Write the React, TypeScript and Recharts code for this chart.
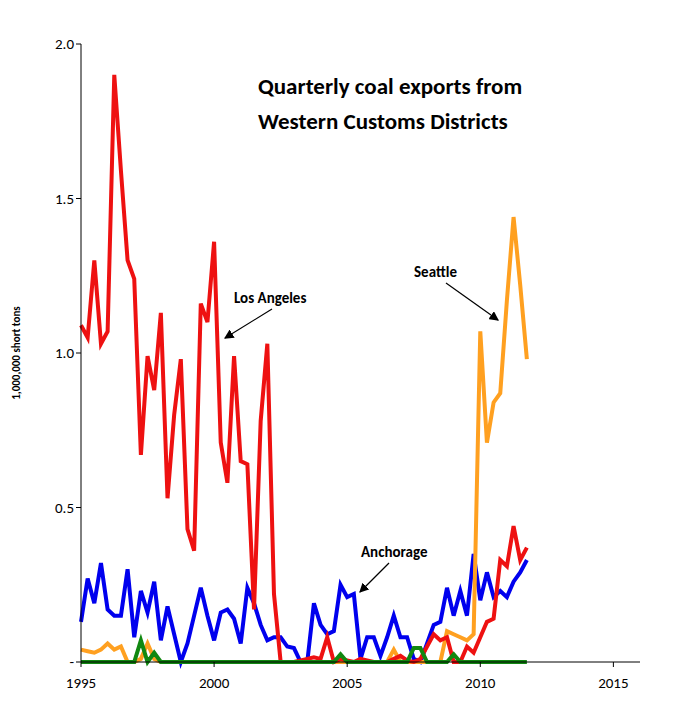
import React from "react";
import { LineChart, Line, XAxis, YAxis } from "recharts";

const START_YEAR = 1995;
const losAngeles = [
  1.09, 1.05, 1.3, 1.03, 1.07, 1.9, 1.59, 1.3, 1.24, 0.67, 0.99, 0.88, 1.13, 0.53, 0.8, 0.98,
  0.43, 0.36, 1.16, 1.1, 1.36, 0.71, 0.58, 0.99, 0.65, 0.64, 0.17, 0.78, 1.03, 0.22, 0, 0,
  0, 0.005, 0.01, 0.015, 0.01, 0.08, 0, 0.01, 0.005, 0, 0.01, 0.005, 0, 0, 0, 0.01,
  0.02, 0.005, 0, 0.01, 0.05, 0.09, 0.07, 0.08, 0, 0, 0.05, 0.03, 0.08, 0.13, 0.14, 0.33,
  0.31, 0.44, 0.33, 0.37,
];
const anchorage = [
  0.13, 0.27, 0.19, 0.32, 0.17, 0.15, 0.15, 0.3, 0.08, 0.23, 0.16, 0.26, 0.07, 0.18, 0.09, 0,
  0.06, 0.15, 0.24, 0.15, 0.07, 0.16, 0.17, 0.14, 0.06, 0.24, 0.19, 0.12, 0.07, 0.08, 0.08, 0.05,
  0.045, 0, 0, 0.19, 0.12, 0.09, 0.1, 0.25, 0.21, 0.22, 0.01, 0.08, 0.08, 0.02, 0.08, 0.15,
  0.08, 0.08, 0.01, 0, 0.06, 0.12, 0.13, 0.24, 0.15, 0.23, 0.15, 0.35, 0.2, 0.29, 0.21, 0.23,
  0.21, 0.26, 0.29, 0.33,
];
const seattle = [
  0.04, 0.035, 0.03, 0.04, 0.06, 0.04, 0.05, 0, 0, 0.01, 0.06, 0.01, 0, 0, 0, 0,
  0, 0, 0, 0, 0, 0, 0, 0, 0, 0, 0, 0, 0, 0, 0, 0,
  0, 0, 0, 0, 0, 0, 0, 0, 0, 0, 0, 0, 0, 0, 0, 0.04,
  0, 0, 0, 0, 0, 0, 0, 0.1, 0.09, 0.08, 0.07, 0.09, 1.07, 0.71, 0.84, 0.87,
  1.17, 1.44, 1.22, 0.98,
];
const portland = [
  0, 0, 0, 0, 0, 0, 0, 0, 0, 0.07, 0, 0.03, 0, 0, 0, 0,
  0, 0, 0, 0, 0, 0, 0, 0, 0, 0, 0, 0, 0, 0, 0, 0,
  0, 0, 0, 0, 0, 0, 0, 0.025, 0, 0, 0, 0, 0, 0, 0, 0,
  0, 0, 0.045, 0.045, 0, 0, 0, 0, 0.025, 0, 0, 0, 0, 0, 0, 0,
  0, 0, 0, 0,
];
const xTicks = [1995, 2000, 2005, 2010, 2015];
const yTicks = [0, 0.5, 1, 1.5, 2];

const data = losAngeles.map((v, i) => ({
  t: START_YEAR + i / 4,
  la: v,
  anc: anchorage[i],
  sea: seattle[i],
  por: portland[i],
}));

const font = "Calibri, Carlito, 'Open Sans', Arial, sans-serif";

export default function App() {
  return (
    <div style={{ position: "relative", width: 691, height: 715, margin: -8, fontFamily: font }}>
      <LineChart width={691} height={715} data={data} margin={{ top: 44, right: 51, bottom: 13, left: 41 }}>
        <XAxis
          dataKey="t"
          type="number"
          domain={[1995, 2016]}
          ticks={xTicks}
          stroke="#000"
          tick={{ fill: "#000", fontSize: 15, fontFamily: font }}
          tickSize={5}
          tickMargin={10}
          height={40}
        />
        <YAxis
          domain={[0, 2]}
          ticks={yTicks}
          stroke="#000"
          width={40}
          tick={{ fill: "#000", fontSize: 15, fontFamily: font }}
          tickFormatter={(v) => (v === 0 ? "-" : v.toFixed(1))}
          tickSize={5}
        />
        <Line dataKey="anc" stroke="#0000ee" strokeWidth={4} dot={false} isAnimationActive={false} />
        <Line dataKey="sea" stroke="#ffa020" strokeWidth={4} dot={false} isAnimationActive={false} />
        <Line dataKey="la" stroke="#ee1111" strokeWidth={4} dot={false} isAnimationActive={false} />
        <Line dataKey="por" stroke="#118811" strokeWidth={4} dot={false} isAnimationActive={false} />
      </LineChart>
      <svg width={691} height={715} style={{ position: "absolute", left: 0, top: 0, pointerEvents: "none" }}>
        <defs>
          <marker id="ah" markerWidth="8" markerHeight="8" refX="7" refY="4" orient="auto">
            <path d="M0,0 L8,4 L0,8 z" fill="#000" />
          </marker>
        </defs>
        <text x={258} y={94} fontSize={23} fontWeight="bold" fontFamily={font}>Quarterly coal exports from</text>
        <text x={258} y={129} fontSize={23} fontWeight="bold" fontFamily={font}>Western Customs Districts</text>
        <text x={20} y={353} fontSize={11} fontWeight="bold" fontFamily={font} textAnchor="middle" transform="rotate(-90 20 353)">1,000,000  short tons</text>
        <text x={234} y={303} fontSize={15} fontWeight="bold" fontFamily={font}>Los Angeles</text>
        <line x1={272} x2={225} y1={309} y2={338} stroke="#000" strokeWidth={1.2} markerEnd="url(#ah)" />
        <text x={414} y={277} fontSize={15} fontWeight="bold" fontFamily={font}>Seattle</text>
        <line x1={446} x2={498} y1={283} y2={320} stroke="#000" strokeWidth={1.2} markerEnd="url(#ah)" />
        <text x={361} y={557} fontSize={15} fontWeight="bold" fontFamily={font}>Anchorage</text>
        <line x1={389} x2={360} y1={563} y2={592} stroke="#000" strokeWidth={1.2} markerEnd="url(#ah)" />
      </svg>
    </div>
  );
}
